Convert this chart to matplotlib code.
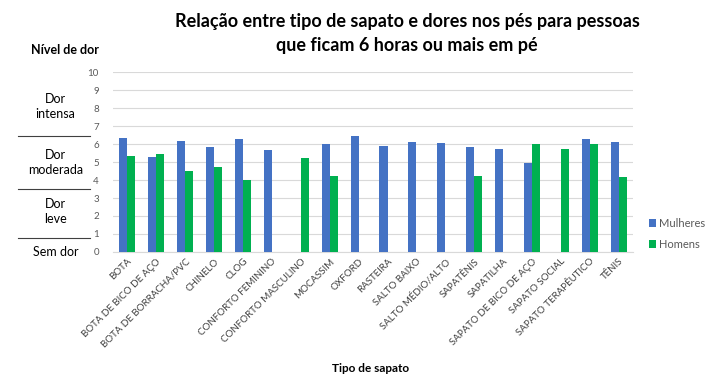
import matplotlib
matplotlib.use("Agg")
import matplotlib.pyplot as plt
import numpy as np

plt.rcParams['font.family'] = ['Lato', 'DejaVu Sans']

categories = ["BOTA", "BOTA DE BICO DE AÇO", "BOTA DE BORRACHA/PVC", "CHINELO", "CLOG",
              "CONFORTO FEMININO", "CONFORTO MASCULINO", "MOCASSIM", "OXFORD", "RASTEIRA",
              "SALTO BAIXO", "SALTO MÉDIO/ALTO", "SAPATÊNIS", "SAPATILHA",
              "SAPATO DE BICO DE AÇO", "SAPATO SOCIAL", "SAPATO TERAPÊUTICO", "TÊNIS"]
mulheres = [6.32, 5.26, 6.17, 5.84, 6.28, 5.65, np.nan, 6.0, 6.45, 5.89,
            6.12, 6.04, 5.84, 5.72, 4.94, np.nan, 6.28, 6.12]
homens = [5.33, 5.45, 4.50, 4.72, 4.0, np.nan, 5.24, 4.22, np.nan, np.nan,
          np.nan, np.nan, 4.22, np.nan, 6.0, 5.72, 6.0, 4.16]
yticks = list(range(0, 11))
pain_levels = ["Dor\nintensa", "Dor\nmoderada", "Dor\nleve", "Sem dor"]

fig = plt.figure(figsize=(7.23, 3.8), dpi=100)
ax = fig.add_axes([0.156, 0.337, 0.72, 0.473])

x = np.arange(len(categories))
w = 0.28
ax.bar(x - w/2, mulheres, w, color="#4472C4", label="Mulheres", zorder=3)
ax.bar(x + w/2, homens, w, color="#00B050", label="Homens", zorder=3)

ax.set_xlim(-0.5, len(categories) - 0.5)
ax.set_ylim(0, 10)
ax.set_yticks(yticks)
ax.set_yticklabels([str(t) for t in yticks], fontsize=7, color="#595959")
ax.grid(axis="y", color="#D9D9D9", linewidth=0.8, zorder=0)
for s in ["top", "right", "left"]:
    ax.spines[s].set_visible(False)
ax.spines["bottom"].set_color("#D9D9D9")
ax.tick_params(axis="both", length=0)
ax.tick_params(axis="y", pad=10)
ax.set_xticks(x)
ax.set_xticklabels(categories, rotation=45, ha="right", rotation_mode="anchor",
                   fontsize=7, color="#404040")

fig.text(0.563, 0.912, "Relação entre tipo de sapato e dores nos pés para pessoas\nque ficam 6 horas ou mais em pé",
         ha="center", va="center", fontsize=13, fontweight="bold", linespacing=1.55)
fig.text(0.09, 0.868, "Nível de dor", ha="center", va="center", fontsize=9, fontweight="bold")
fig.text(0.512, 0.03, "Tipo de sapato", ha="center", va="center", fontsize=8.5, fontweight="bold")

# pain level annotations on the left
trans = ax.get_yaxis_transform()
lx = -0.11
ax.text(lx, 8.1, pain_levels[0], transform=trans, ha="center", va="center", fontsize=9, linespacing=1.3)
ax.text(lx, 5.0, pain_levels[1], transform=trans, ha="center", va="center", fontsize=9, linespacing=1.3)
ax.text(lx, 2.25, pain_levels[2], transform=trans, ha="center", va="center", fontsize=9, linespacing=1.3)
ax.text(lx, 0.0, pain_levels[3], transform=trans, ha="center", va="center", fontsize=9)
for yv in [6.45, 3.5, 0.75]:
    ax.plot([-0.183, -0.044], [yv, yv], transform=trans, color="#404040", linewidth=0.8, clip_on=False)

ax.legend(loc="center left", bbox_to_anchor=(1.01, 0.1), frameon=False, fontsize=8,
          handlelength=0.7, handleheight=0.7, handletextpad=0.2, labelspacing=0.9,
          labelcolor="#595959")

fig.savefig("out.png", dpi=100)
